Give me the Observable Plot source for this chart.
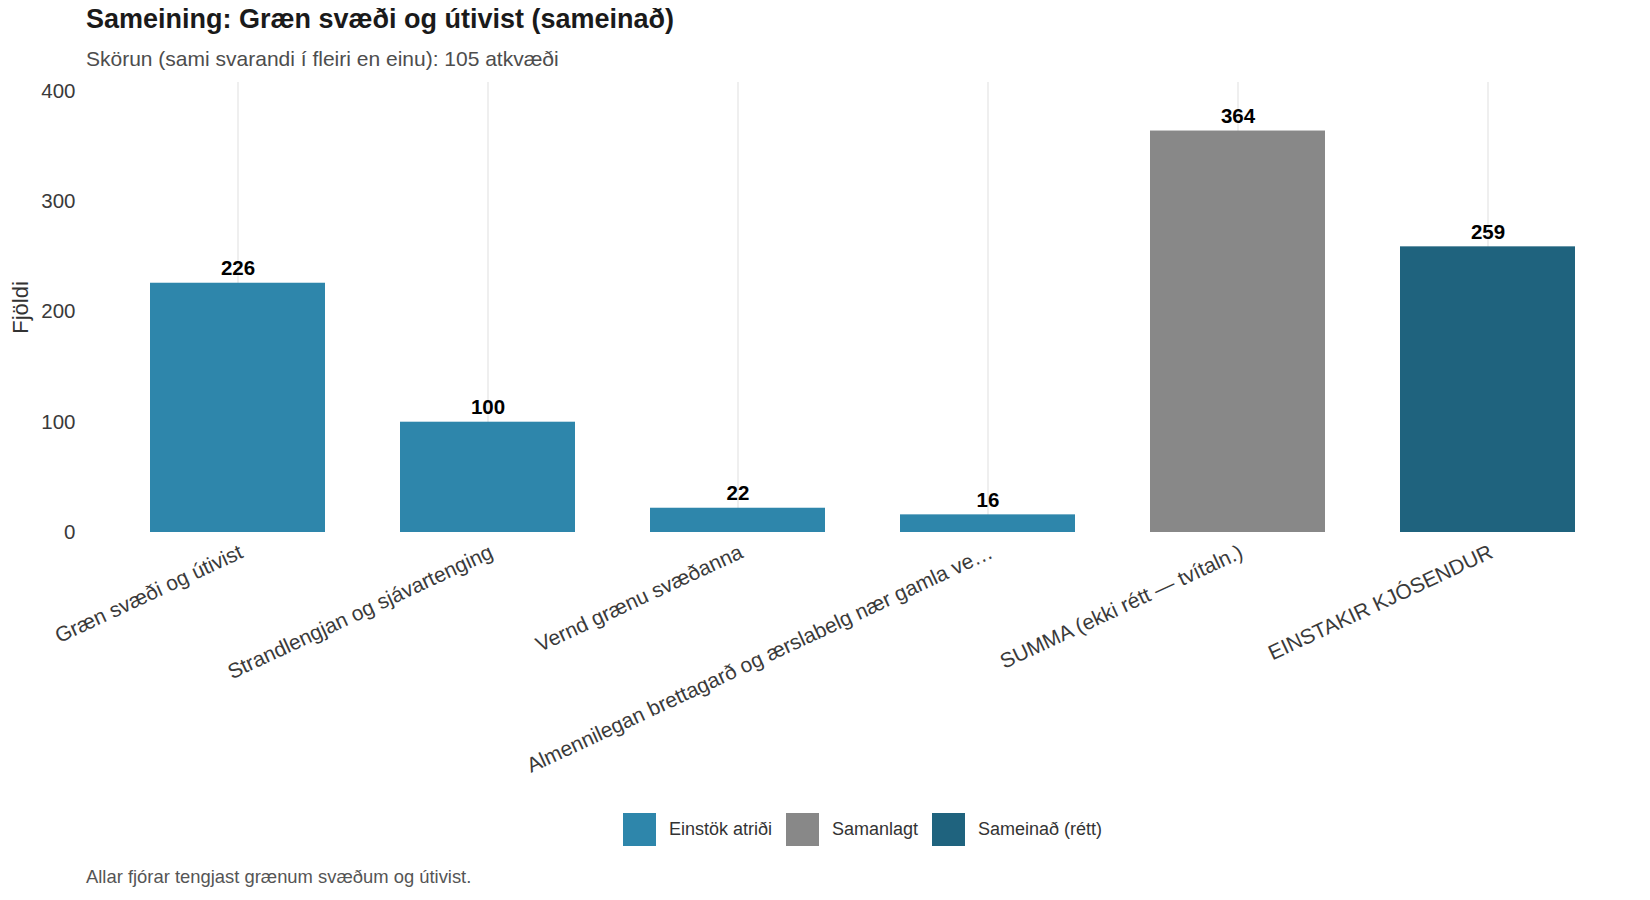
<!DOCTYPE html>
<html>
<head>
<meta charset="utf-8">
<script src="https://cdn.jsdelivr.net/npm/d3@7"></script>
<script src="https://cdn.jsdelivr.net/npm/@observablehq/plot@0.6"></script>
<style>
  body { margin: 0; background: #fff; font-family: "Liberation Sans", Arial, sans-serif; }
  #wrap { position: relative; width: 1650px; height: 900px; overflow: hidden; background: #fff; }
  #title { position: absolute; left: 86px; top: 6px; font-size: 27px; font-weight: bold; line-height: 1; color: #1a1a1a; white-space: nowrap; }
  #subtitle { position: absolute; left: 86px; top: 48px; font-size: 21px; line-height: 1; color: #4d4d4d; white-space: nowrap; }
  #chart { position: absolute; left: 0; top: 70px; }
  #legend { position: absolute; left: 87px; width: 1551px; top: 813px; display: flex; justify-content: center; }
  #caption { position: absolute; left: 86px; top: 868px; font-size: 18.4px; line-height: 1; color: #555; white-space: nowrap; }
  #legend .lg-swatches { font-family: "Liberation Sans", Arial, sans-serif !important; font-size: 18px !important; color: #333 !important; margin: 0 !important; min-height: 33px; }
  #legend .lg-swatch { margin-right: 14px !important; }
  #legend .lg-swatch:last-child { margin-right: 0 !important; }
  #legend .lg-swatch > svg { margin-right: 13px !important; }
</style>
</head>
<body>
<div id="wrap">
  <div id="title">Sameining: Græn svæði og útivist (sameinað)</div>
  <div id="subtitle">Skörun (sami svarandi í fleiri en einu): 105 atkvæði</div>
  <div id="chart"></div>
  <div id="legend"></div>
  <div id="caption">Allar fjórar tengjast grænum svæðum og útivist.</div>
</div>
<script>
// ---- data ----
const categories = [
  "Græn svæði og útivist",
  "Strandlengjan og sjávartenging",
  "Vernd grænu svæðanna",
  "Almennilegan brettagarð og ærslabelg nær gamla ve…",
  "SUMMA (ekki rétt — tvítaln.)",
  "EINSTAKIR KJÓSENDUR"
];
const values = [226, 100, 22, 16, 364, 259];
const categoryGroups = [
  "Einstök atriði", "Einstök atriði", "Einstök atriði", "Einstök atriði",
  "Samanlagt", "Sameinað (rétt)"
];
const groups = ["Einstök atriði", "Samanlagt", "Sameinað (rétt)"];
const groupColors = ["#2E86AB", "#888888", "#1F637E"];
const yTicks = [0, 100, 200, 300, 400];
const yMax = 408;
const yLabel = "Fjöldi";

const rows = categories.map((c, i) => ({category: c, value: values[i], group: categoryGroups[i]}));

const font = "Liberation Sans, Arial, sans-serif";

const chart = Plot.plot({
  width: 1650,
  height: 720,
  marginLeft: 87,
  marginRight: 12,
  marginTop: 12,
  marginBottom: 258,
  style: {fontFamily: font, background: "#fff", color: "#3a3a3a", overflow: "visible"},
  x: {domain: categories, paddingInner: 0.3, paddingOuter: 0.25},
  y: {domain: [0, yMax]},
  color: {type: "ordinal", domain: groups, range: groupColors},
  marks: [
    Plot.gridX({stroke: "#ebebeb", strokeOpacity: 1, strokeWidth: 1.6}),
    Plot.barY(rows, {x: "category", y: "value", fill: "group"}),
    Plot.text(rows, {
      x: "category", y: "value", text: d => String(d.value),
      dy: -8, lineAnchor: "bottom", fontWeight: "bold", fontSize: 20.5, fill: "#000"
    }),
    Plot.axisY({ticks: yTicks, tickSize: 0, tickPadding: 12, fontSize: 20.5, label: null}),
    Plot.axisX({
      tickSize: 0, tickRotate: -25, tickPadding: 11,
      textAnchor: "end", lineAnchor: "top", fontSize: 21, label: null
    }),
    Plot.text([yLabel], {
      text: d => d, frameAnchor: "left", dx: -67, rotate: -90,
      fontSize: 22, fill: "#333", textAnchor: "middle", lineAnchor: "middle"
    })
  ]
});
document.getElementById("chart").appendChild(chart);

const legend = chart.legend("color", {legend: "swatches", swatchSize: 33, className: "lg"});
document.getElementById("legend").appendChild(legend);
</script>
</body>
</html>
